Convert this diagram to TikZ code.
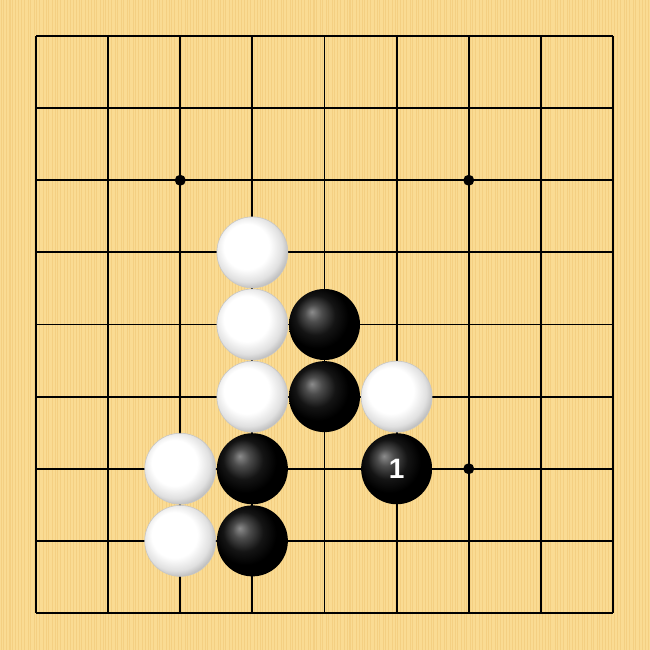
\documentclass[tikz,border=0pt]{standalone}
\usepackage{fontspec}
\newfontfamily\labfont{Liberation Sans}
\definecolor{boardbg}{HTML}{FADB93}
\definecolor{stripe}{HTML}{F2CA7C}
\pgfdeclareradialshading{blackstone}{\pgfpoint{-9bp}{9bp}}{color(0bp)=(black!45); color(6bp)=(black!70); color(14bp)=(black!92); color(22bp)=(black); color(50bp)=(black)}
\pgfdeclareradialshading{whitestone}{\pgfpoint{-6bp}{6bp}}{color(0bp)=(white); color(16bp)=(white); color(24bp)=(black!12); color(30bp)=(black!32); color(50bp)=(black!40)}
\tikzset{
  gridline/.style={line width=1.9pt, black},
  starpt/.style={circle, fill=black, inner sep=0pt, minimum size=11pt},
  bstone/.style={circle, inner sep=0pt, minimum size=71pt, shading=blackstone},
  wstone/.style={circle, inner sep=0pt, minimum size=71pt, shading=whitestone, draw=black!22, line width=0.6pt},
  numlabel/.style={text=white, font=\labfont\bfseries\fontsize{28}{28}\selectfont}
}
\begin{document}
\begin{tikzpicture}[x=1pt,y=-1pt]
\useasboundingbox (0,0) rectangle (650,650);
\fill[boardbg] (0,0) rectangle (650,650);
\pgfmathsetseed{7}
\foreach \k in {0,...,215}{
  \pgfmathsetmacro{\xx}{\k*3.01+1.5*rnd}
  \pgfmathsetmacro{\ww}{0.4+0.8*rnd}
  \draw[stripe, line width=\ww pt, opacity=0.7] (\xx,0) -- (\xx,650);
}
\foreach \i in {0,...,8}{
  \pgfmathsetmacro{\p}{36+72.125*\i}
  \draw[gridline] (\p,36) -- (\p,613);
  \draw[gridline] (36,\p) -- (613,\p);
}
\newcommand{\gx}[1]{36+72.125*#1}
\node[starpt] (s1) at ({\gx{2}},{\gx{2}}) {};
\node[starpt] (s2) at ({\gx{6}},{\gx{2}}) {};
\node[starpt] (s3) at ({\gx{6}},{\gx{6}}) {};
% white stones
\node[wstone] (w1) at ({\gx{3}},{\gx{3}}) {};
\node[wstone] (w2) at ({\gx{3}},{\gx{4}}) {};
\node[wstone] (w3) at ({\gx{3}},{\gx{5}}) {};
\node[wstone] (w4) at ({\gx{5}},{\gx{5}}) {};
\node[wstone] (w5) at ({\gx{2}},{\gx{6}}) {};
\node[wstone] (w6) at ({\gx{2}},{\gx{7}}) {};
% black stones
\node[bstone] (b1) at ({\gx{4}},{\gx{4}}) {};
\node[bstone] (b2) at ({\gx{4}},{\gx{5}}) {};
\node[bstone] (b3) at ({\gx{3}},{\gx{6}}) {};
\node[bstone] (b4) at ({\gx{3}},{\gx{7}}) {};
\node[bstone] (b5) at ({\gx{5}},{\gx{6}}) {};
\node[numlabel] (n1) at (b5.center) {1};
\end{tikzpicture}
\end{document}
